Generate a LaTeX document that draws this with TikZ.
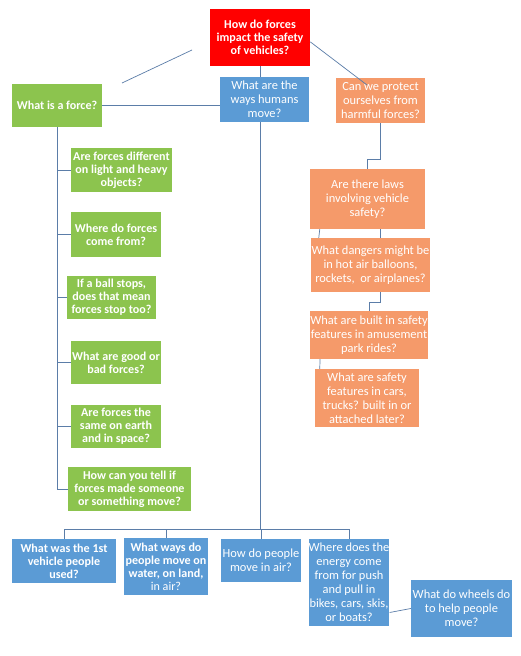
\documentclass[tikz,border=0pt]{standalone}
\usepackage{fontspec}
\setmainfont{Carlito}
\usepackage{tikz}
\definecolor{qred}{HTML}{FF0000}
\definecolor{qgreen}{HTML}{8CC44E}
\definecolor{qblue}{HTML}{5B9BD5}
\definecolor{qorange}{HTML}{F59A6A}
\definecolor{qline}{HTML}{5B7DA8}

\tikzset{
  qbox/.style={rectangle,text=white,align=center,inner sep=0pt},
  bfbox/.style={qbox,font=\bfseries\fontsize{10.3}{11.1}\selectfont},
  rgbox/.style={qbox,font=\fontsize{10.6}{12}\selectfont},
  qlink/.style={draw=qline,line width=0.6pt},
  trunk/.style={draw=qline,line width=0.8pt},
}

\begin{document}
\begin{tikzpicture}[x=0.03cm,y=-0.03cm]
  \useasboundingbox[fill=white] (0,0) rectangle (520,656);
  % top row
  \node[bfbox,fill=qred,minimum width=3cm,minimum height=1.71cm] (root) at (260,37.5) {How do forces\\impact the safety\\of vehicles?};
  \node[rgbox,fill=qblue,minimum width=2.67cm,minimum height=1.35cm] (humans) at (264.5,99.5) {What are the\\ways humans\\move?};
  \node[bfbox,fill=qgreen,minimum width=2.7cm,minimum height=1.29cm] (force) at (57,105.5) {What is a force?};
  \node[rgbox,fill=qorange,minimum width=2.67cm,minimum height=1.35cm] (protect) at (380.5,100.5) {Can we protect\\ourselves from\\harmful forces?};
  % orange column
  \node[rgbox,fill=qorange,minimum width=3.45cm,minimum height=1.8cm] (laws) at (367.5,199) {Are there laws\\involving vehicle\\safety?};
  \node[rgbox,fill=qorange,minimum width=3.57cm,minimum height=1.62cm] (dangers) at (370.5,265) {What dangers might be\\in hot air balloons,\\rockets,\ \ or airplanes?};
  \node[rgbox,fill=qorange,minimum width=3.48cm,minimum height=1.44cm] (rides) at (369,335) {What are built in safety\\features in amusement\\park rides?};
  \node[rgbox,fill=qorange,minimum width=3.12cm,minimum height=1.74cm] (cars) at (367,398) {What are safety\\features in cars,\\trucks? built in or\\attached later?};
  % green column
  \node[bfbox,fill=qgreen,minimum width=3.03cm,minimum height=1.32cm] (diff) at (121.5,170) {Are forces different\\on light and heavy\\objects?};
  \node[bfbox,fill=qgreen,minimum width=2.7cm,minimum height=1.35cm] (where) at (116,234.5) {Where do forces\\come from?};
  \node[bfbox,fill=qgreen,minimum width=2.67cm,minimum height=1.29cm] (ball) at (111.5,297.5) {If a ball stops,\\does that mean\\forces stop too?};
  \node[bfbox,fill=qgreen,minimum width=2.7cm,minimum height=1.29cm] (good) at (116,362.5) {What are good or\\bad forces?};
  \node[bfbox,fill=qgreen,minimum width=2.7cm,minimum height=1.29cm] (same) at (116,426.5) {Are forces the\\same on earth\\and in space?};
  \node[bfbox,fill=qgreen,minimum width=3.69cm,minimum height=1.32cm] (tell) at (129.5,489) {How can you tell if\\forces made someone\\or something move?};
  % bottom row
  \node[bfbox,fill=qblue,minimum width=3.12cm,minimum height=1.32cm] (first) at (64,561) {What was the 1st\\vehicle people\\used?};
  \node[bfbox,fill=qblue,minimum width=2.52cm,minimum height=1.71cm] (water) at (166,566.5) {What ways do\\people move on\\water, on land,\\{\mdseries in air?}};
  \node[rgbox,fill=qblue,minimum width=2.4cm,minimum height=1.29cm] (air) at (261,560.5) {How do people\\move in air?};
  \node[rgbox,fill=qblue,minimum width=2.4cm,minimum height=2.61cm] (energy) at (349,582.5) {Where does the\\energy come\\from for push\\and pull in\\bikes, cars, skis,\\or boats?};
  \node[rgbox,fill=qblue,minimum width=3.03cm,minimum height=1.71cm] (wheels) at (461.5,608.5) {What do wheels do\\to help people\\move?};

  % connectors
  \coordinate (lone1) at (192,50);
  \coordinate (lone2) at (122,83);
  \coordinate (pend) at (367,85);
  \coordinate (hbar) at (260,529);
  \draw[qlink] (lone1) -- (lone2);
  \draw[qlink] ([yshift=-0.13cm]root.east) -- (pend);
  \draw[trunk] (root.south) -- (root.south |- humans.north);
  \draw[trunk] (force.east) -- (force.east -| humans.west);
  \draw[trunk] (hbar |- humans.south) -- (hbar);
  \draw[qlink] (first.north) |- (energy.north |- hbar) -- (energy.north);
  \draw[qlink] (water.north) -- (water.north |- hbar);
  \draw[qlink] (air.north) -- (air.north |- hbar);
  \draw[trunk] (force.south) |- (tell.west);
  \foreach \q in {diff,where,ball,good,same}
    \draw[qlink] (force.south |- \q.west) -- (\q.west);
  \draw[trunk] (protect.south) -- ++(0,36) -| (laws.north);
  \draw[qlink] (protect.south |- laws.south) -- (protect.south |- dangers.north);
  \draw[qlink] ([xshift=0.3cm]laws.south west) -- ([xshift=0.24cm]dangers.north west);
  \draw[qlink] (protect.south |- dangers.south) -- ++(0,10) -| (rides.north);
  \draw[qlink] ([xshift=0.3cm]rides.south west) -- ([xshift=0.15cm]cars.north west);
  \draw[qlink] ([yshift=-0.9cm]energy.east) -- (wheels.west);
\end{tikzpicture}
\end{document}
